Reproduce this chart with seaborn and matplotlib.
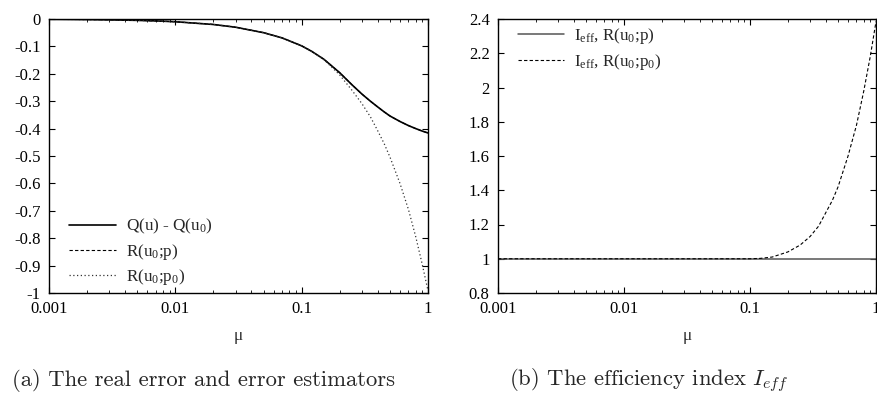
import numpy as np
import pandas as pd
import matplotlib
matplotlib.use("Agg")
import matplotlib.pyplot as plt
import matplotlib.ticker as mticker
import seaborn as sns

# ---------------- data ----------------
mu = [0.001, 0.002, 0.003, 0.005, 0.007, 0.01, 0.02, 0.03, 0.05, 0.07,
      0.1, 0.12, 0.15, 0.2, 0.25, 0.3, 0.35, 0.4, 0.45, 0.5,
      0.6, 0.7, 0.8, 0.9, 1.0]

q_err = [-0.001, -0.002, -0.003, -0.005, -0.007, -0.010, -0.020, -0.030, -0.050, -0.069,
         -0.098, -0.118, -0.147, -0.196, -0.240, -0.274, -0.300, -0.321, -0.339, -0.354,
         -0.374, -0.389, -0.400, -0.409, -0.416]

r_p = [-0.001, -0.002, -0.003, -0.005, -0.007, -0.010, -0.020, -0.030, -0.050, -0.069,
       -0.098, -0.118, -0.147, -0.196, -0.240, -0.274, -0.300, -0.321, -0.339, -0.354,
       -0.374, -0.389, -0.400, -0.409, -0.416]

r_p0 = [-0.001, -0.002, -0.003, -0.005, -0.007, -0.010, -0.020, -0.030, -0.050, -0.069,
        -0.098, -0.118, -0.148, -0.204, -0.260, -0.309, -0.357, -0.408, -0.455, -0.504,
        -0.600, -0.695, -0.795, -0.895, -0.992]

ieff_p = [1.0] * len(mu)

ieff_p0 = [1.0, 1.0, 1.0, 1.0, 1.0, 1.0, 1.0, 1.0, 1.0, 1.0,
           1.0, 1.002, 1.01, 1.04, 1.08, 1.13, 1.19, 1.27, 1.34, 1.42,
           1.60, 1.78, 1.98, 2.18, 2.385]

x_ticks = [0.001, 0.01, 0.1, 1]
x_ticklabels = ["0.001", "0.01", "0.1", "1"]
yl_ticks = [0, -0.1, -0.2, -0.3, -0.4, -0.5, -0.6, -0.7, -0.8, -0.9, -1]
yl_ticklabels = ["0", "-0.1", "-0.2", "-0.3", "-0.4", "-0.5", "-0.6", "-0.7", "-0.8", "-0.9", "-1"]
yr_ticks = [0.8, 1.0, 1.2, 1.4, 1.6, 1.8, 2.0, 2.2, 2.4]
yr_ticklabels = ["0.8", "1", "1.2", "1.4", "1.6", "1.8", "2", "2.2", "2.4"]

labels_left = ["Q(u) - Q(u$_\\mathrm{0}$)", "R(u$_\\mathrm{0}$;p)", "R(u$_\\mathrm{0}$;p$_\\mathrm{0}$)"]
labels_right = ["I$_\\mathrm{eff}$, R(u$_\\mathrm{0}$;p)", "I$_\\mathrm{eff}$, R(u$_\\mathrm{0}$;p$_\\mathrm{0}$)"]
caption_a = "(a) The real error and error estimators"
caption_b = "(b) The efficiency index $I_{eff}$"
xlabel = "\u03bc"

# ---------------- style ----------------
sns.set_style("ticks")
plt.rcParams["font.family"] = ["Liberation Serif", "DejaVu Serif"]
plt.rcParams["mathtext.fontset"] = "custom"
plt.rcParams["mathtext.rm"] = "Liberation Serif"
plt.rcParams["mathtext.it"] = "Liberation Serif:italic"
plt.rcParams["axes.unicode_minus"] = False
plt.rcParams["axes.linewidth"] = 1.0
plt.rcParams["axes.edgecolor"] = "black"

W, H = 878, 396
fig = plt.figure(figsize=(W / 100, H / 100), dpi=100)

axL = fig.add_axes([49 / W, (H - 293) / H, (428 - 49) / W, 274 / H])
axR = fig.add_axes([498 / W, (H - 293) / H, (876 - 498) / W, 274 / H])

df = pd.DataFrame({"mu": mu, "q": q_err, "rp": r_p, "rp0": r_p0,
                   "ip": ieff_p, "ip0": ieff_p0})

sns.lineplot(data=df, x="mu", y="q", ax=axL, color="black", lw=1.2,
             estimator=None, label=labels_left[0])
sns.lineplot(data=df, x="mu", y="rp", ax=axL, color="black", lw=0.8,
             estimator=None, label=labels_left[1])
sns.lineplot(data=df, x="mu", y="rp0", ax=axL, color="#333333", lw=0.9,
             estimator=None, label=labels_left[2])
axL.lines[1].set_dashes([3, 2])
axL.lines[2].set_dashes([1, 2])

sns.lineplot(data=df, x="mu", y="ip", ax=axR, color="#555555", lw=1.1,
             estimator=None, label=labels_right[0])
sns.lineplot(data=df, x="mu", y="ip0", ax=axR, color="black", lw=0.8,
             estimator=None, label=labels_right[1])
axR.lines[1].set_dashes([3, 2])

for ax, yt, ytl, ylim in [(axL, yl_ticks, yl_ticklabels, (-1, 0)),
                          (axR, yr_ticks, yr_ticklabels, (0.8, 2.4))]:
    ax.set_xscale("log")
    ax.set_xlim(0.001, 1)
    ax.set_ylim(*ylim)
    ax.set_xticks(x_ticks)
    ax.set_xticklabels(x_ticklabels)
    ax.xaxis.set_minor_locator(mticker.LogLocator(base=10, subs=np.arange(2, 10)))
    ax.xaxis.set_minor_formatter(mticker.NullFormatter())
    ax.set_yticks(yt)
    ax.set_yticklabels(ytl)
    ax.tick_params(which="both", direction="in", top=True, right=True,
                   labelsize=12, colors="black")
    ax.tick_params(which="major", length=4.5, width=0.8)
    ax.tick_params(which="minor", length=2.2, width=0.6)
    ax.tick_params(axis="x", pad=6)
    ax.tick_params(axis="y", pad=6)
    ax.set_xlabel(xlabel, fontsize=12.5, labelpad=8)
    ax.set_ylabel("")
    for s in ax.spines.values():
        s.set_visible(True)
        s.set_linewidth(1.0)

legL = axL.legend(loc="lower left", bbox_to_anchor=(0.036, -0.004), frameon=False,
                  fontsize=12.3, handlelength=2.7, handletextpad=0.6,
                  labelspacing=0.32, borderaxespad=0.0)
legR = axR.legend(loc="upper left", bbox_to_anchor=(0.035, 0.998), frameon=False,
                  fontsize=12.3, handlelength=2.7, handletextpad=0.6,
                  labelspacing=0.32, borderaxespad=0.0)

fig.text(204 / W, 1 - 381 / H, caption_a, fontsize=16.3, family="cmr10",
         ha="center", va="center", math_fontfamily="cm")
fig.text(649 / W, 1 - 381 / H, caption_b, fontsize=16.3, family="cmr10",
         ha="center", va="center", math_fontfamily="cm")

fig.savefig("out.png", dpi=100)
